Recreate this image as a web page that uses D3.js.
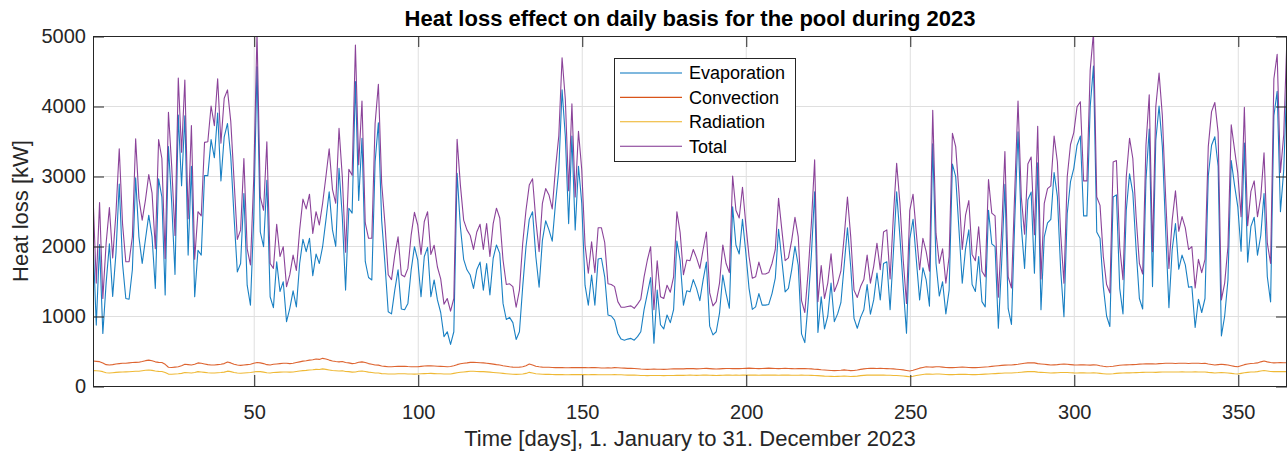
<!DOCTYPE html>
<html>
<head>
<meta charset="utf-8">
<script src="https://cdn.jsdelivr.net/npm/d3@7"></script>
<style>
  body { margin: 0; background: #fff; }
  svg { display: block; font-family: "Liberation Sans", Arial, Helvetica, sans-serif; }
</style>
</head>
<body>
<svg id="chart" width="1287" height="454"></svg>
<script>
const days = d3.range(1, 366)

const evaporation = [
  2100,870,2020,750,1470,2030,1280,1900,2885,1750,
  1250,1240,1660,2975,2130,1750,2100,2440,2130,1395,
  2960,2700,1300,3420,2610,1595,3870,2860,3860,1870,
  3140,1275,1940,1870,3005,3005,3520,3260,3900,2930,
  3560,3750,3280,2420,1630,1750,2750,1440,1155,2400,
  4560,2200,1990,2940,1275,1120,1775,1350,1490,920,
  1110,1360,1130,1750,2095,1920,2110,1575,1885,1750,
  1990,2370,2775,2230,1995,3110,2420,1370,2540,2470,
  4350,2650,3540,1780,1550,1515,3200,3760,2370,1750,
  1060,1030,1370,1660,1100,1090,1180,1660,1990,1800,
  1275,1850,1980,1275,1515,1230,1050,705,775,595,
  775,3040,2275,1810,1660,1585,1395,1660,1770,1370,
  1750,1300,1825,2015,1895,1180,950,980,905,665,
  775,1420,1990,2380,2490,1850,1410,2080,2360,2230,
  2070,2610,3090,4230,3560,2320,3570,2230,3140,2610,
  1440,1155,1585,1155,1815,1825,1560,1015,1000,940,
  750,670,655,670,680,655,705,775,1090,1320,
  1550,610,1370,875,815,1015,905,1090,2070,1790,
  1155,1360,1345,1520,1395,1220,1515,1770,855,730,
  775,1040,1585,1320,1110,2560,2015,1885,2380,1915,
  1395,1095,1130,1320,1155,1155,1165,1320,1540,2240,
  1800,1345,1395,1660,1995,1725,745,620,1180,1870,
  2775,765,1275,815,1000,1470,920,1030,1190,1725,
  2260,1700,965,825,980,1090,1450,1025,1230,1615,
  1230,1750,1775,1090,1905,2775,2130,1420,755,2100,
  2380,1800,1230,1690,1515,1140,3460,1750,1285,1490,
  1030,1370,3170,2990,2230,1470,1960,2230,1450,1350,
  1850,1205,1130,2510,2030,1990,825,1750,2880,1105,
  880,2360,3630,2280,1680,2660,2770,1610,3190,1090,
  2130,2330,2380,3050,2705,1660,990,2465,2920,3110,
  3440,3570,2430,2430,3990,4570,2200,2110,1420,1000,
  850,2700,2730,1395,1030,2510,3030,2760,1950,1250,
  1100,2940,3670,1420,3510,4000,3420,2230,1120,1950,
  2320,1670,1870,1730,1410,1420,835,1240,1050,1250,
  3000,3440,3560,3140,715,1000,1515,3220,2870,2560,
  1925,3470,1770,2280,2410,1870,2150,2750,1560,1200,
  3860,4210,2490,3080,4420
]

const convection = [
  357,352,348,330,305,300,305,315,320,324,
  326,330,335,338,340,350,362,370,360,345,
  338,336,310,268,265,270,275,290,310,305,
  300,310,330,325,315,305,300,300,305,310,
  320,343,330,310,300,295,300,305,310,325,
  335,330,320,305,300,310,315,320,325,325,
  320,325,335,345,355,360,370,375,385,380,
  395,385,370,357,350,345,350,335,330,320,
  325,340,345,335,320,310,300,298,285,280,
  276,276,278,280,280,282,278,276,275,276,
  280,285,288,290,286,282,280,278,276,278,
  290,305,318,324,330,338,338,335,332,330,
  325,320,312,305,300,290,282,275,270,267,
  270,275,290,314,300,282,275,270,268,267,
  265,262,262,262,260,260,262,262,262,262,
  262,260,262,262,260,258,258,260,258,262,
  260,258,255,252,252,250,246,242,240,238,
  240,242,240,240,238,240,242,244,245,245,
  245,248,250,248,245,246,250,252,248,245,
  242,245,248,250,250,248,250,248,250,252,
  255,252,250,248,250,252,255,252,250,248,
  250,252,250,248,246,248,250,248,246,245,
  240,238,232,228,225,222,220,222,225,230,
  225,219,222,228,238,245,250,252,252,250,
  252,250,248,246,244,240,236,230,222,214,
  225,240,255,265,276,272,270,275,276,270,
  265,262,262,265,268,270,268,265,262,262,
  265,268,272,275,280,285,290,295,298,300,
  300,305,310,318,325,330,333,330,320,315,
  310,305,300,302,305,310,312,310,306,302,
  300,302,304,300,298,302,300,290,282,276,
  278,282,290,296,300,302,304,306,308,312,
  314,316,318,316,314,320,322,324,324,324,
  322,324,326,324,322,324,326,324,322,324,
  315,308,300,305,310,305,300,290,280,276,
  290,305,315,322,324,330,345,357,345,335,
  330,333,335,333,333
]

const radiation = [
  220,218,215,205,190,186,190,195,198,200,
  202,204,207,210,211,217,224,229,223,214,
  209,208,192,170,168,171,174,180,192,189,
  186,192,205,201,195,189,186,186,189,192,
  198,212,205,192,186,183,186,189,192,201,
  208,205,198,189,186,192,195,198,201,201,
  198,201,208,214,220,223,229,232,238,236,
  245,238,229,221,217,214,217,208,205,198,
  201,211,214,208,198,192,186,185,177,174,
  171,171,172,174,174,175,172,171,170,171,
  174,177,179,180,177,175,174,172,171,172,
  180,189,197,201,205,210,210,208,206,205,
  202,198,193,189,186,180,175,171,167,166,
  167,171,180,195,186,175,171,167,166,166,
  164,162,162,162,161,161,162,162,162,162,
  162,161,162,162,161,160,160,161,160,162,
  161,160,158,156,156,155,153,150,149,148,
  149,150,149,149,148,149,150,151,152,152,
  152,154,155,154,152,153,155,156,154,152,
  150,152,154,155,155,154,155,154,155,156,
  158,156,155,154,155,156,158,156,155,154,
  155,156,155,154,153,154,155,154,153,152,
  149,148,144,141,140,138,136,138,140,143,
  140,136,138,141,148,152,155,156,156,155,
  156,155,154,153,151,149,146,143,138,133,
  140,149,158,164,171,169,167,171,171,167,
  164,162,162,164,166,167,166,164,162,162,
  164,166,169,171,174,177,180,183,185,186,
  186,189,192,197,202,205,206,205,198,195,
  192,189,186,187,189,192,193,192,190,187,
  186,187,188,186,185,187,186,180,175,171,
  172,175,180,184,186,187,188,190,191,193,
  195,196,197,196,195,198,200,201,201,201,
  200,201,202,201,200,201,202,201,200,201,
  195,191,186,189,192,189,186,180,174,171,
  180,189,195,200,201,205,214,221,214,208,
  205,206,208,206,206
]

const total = [
  2730,1470,2620,1250,2040,2550,1830,2470,3390,2320,
  1775,1775,2130,3530,2680,2370,2660,3020,2760,1960,
  3520,3250,1820,3910,3130,2150,4400,3340,4370,2390,
  3720,1810,2490,2430,3480,3490,4000,3720,4390,3470,
  4110,4230,3780,2940,2095,2230,3250,1960,1730,2960,
  5050,2700,2510,3490,1750,1680,2310,1850,1990,1420,
  1590,1870,1650,2230,2670,2530,2740,2180,2490,2300,
  2610,2990,3390,2810,2610,3680,2990,1910,3095,3010,
  4870,3160,4070,2330,2110,2110,3750,4310,2900,2320,
  1590,1520,1870,2130,1590,1560,1680,2160,2480,2300,
  1880,2350,2490,1880,2010,1700,1530,1170,1250,1070,
  1250,3525,2870,2370,2230,2150,1950,2200,2310,1950,
  2320,1850,2320,2540,2400,1800,1450,1460,1420,1125,
  1370,2040,2510,2870,2960,2370,1920,2610,2820,2730,
  2530,3110,3570,4690,4090,2790,4030,2700,3640,3090,
  2015,1610,2060,1620,2260,2260,2050,1460,1450,1420,
  1205,1125,1125,1135,1145,1110,1170,1240,1560,1800,
  1990,1090,1790,1275,1250,1440,1340,1560,2490,2190,
  1590,1800,1790,1950,1830,1680,1950,2200,1330,1145,
  1205,1470,2015,1750,1620,3000,2510,2400,2840,2320,
  1850,1540,1560,1770,1600,1600,1620,1750,1950,2680,
  2230,1790,1830,2080,2410,2130,1220,1050,1620,2320,
  3230,1205,1720,1250,1470,1890,1350,1470,1640,2130,
  2700,2130,1370,1265,1420,1520,1870,1470,1710,2040,
  1660,2200,2230,1530,2430,3180,2610,1800,1180,2510,
  2740,2180,1660,2110,1920,1640,3940,2180,1750,1960,
  1470,1850,3610,3420,2760,1950,2440,2650,1880,1790,
  2275,1640,1560,2950,2470,2430,1270,2210,3350,1560,
  1400,2790,4070,2700,2170,3170,3270,2160,3710,1530,
  2610,2820,2860,3570,3200,2180,1470,2990,3450,3620,
  3990,4060,2930,2930,4510,5050,2700,2580,1850,1450,
  1330,3200,3220,1990,1520,2990,3540,3250,2420,1750,
  1600,3440,4160,1920,3990,4470,3860,2700,1680,2370,
  2790,2210,2420,2260,1950,1990,1400,1810,1620,1810,
  3420,3920,4050,3620,1230,1470,1990,3730,3380,3040,
  2420,3980,2290,2780,2930,2420,2700,3330,2040,1750,
  4390,4740,3050,3590,5000
]

const xTicks = [50, 100, 150, 200, 250, 300, 350]
const yTicks = [0, 1000, 2000, 3000, 4000, 5000]

const series = [
  {name: "Evaporation", values: evaporation, color: "#0072BD"},
  {name: "Convection", values: convection, color: "#D95319"},
  {name: "Radiation", values: radiation, color: "#EDB120"},
  {name: "Total", values: total, color: "#7E2F8E"}
]

const plot = {left: 93, right: 1287, top: 36, bottom: 386}
const axisColor = "#262626"
const tickLen = 11

const svg = d3.select("#chart")

const x = d3.scaleLinear().domain([1, 365]).range([plot.left, plot.right])
const y = d3.scaleLinear().domain([0, 5000]).range([plot.bottom, plot.top])

svg.append("defs")
  .append("clipPath")
  .attr("id", "plot-clip")
  .append("rect")
  .attr("x", plot.left)
  .attr("y", plot.top)
  .attr("width", plot.right - plot.left)
  .attr("height", plot.bottom - plot.top)

// grid
const grid = svg.append("g").attr("class", "grid")
grid.selectAll("line.vgrid")
  .data(xTicks)
  .join("line")
  .attr("class", "vgrid")
  .attr("x1", (d) => x(d) + 0.5)
  .attr("x2", (d) => x(d) + 0.5)
  .attr("y1", plot.top)
  .attr("y2", plot.bottom)
  .attr("stroke", "#dfdfdf")
  .attr("stroke-width", 1)
grid.selectAll("line.hgrid")
  .data(yTicks.slice(1, -1))
  .join("line")
  .attr("class", "hgrid")
  .attr("x1", plot.left)
  .attr("x2", plot.right)
  .attr("y1", (d) => y(d) + 0.5)
  .attr("y2", (d) => y(d) + 0.5)
  .attr("stroke", "#dfdfdf")
  .attr("stroke-width", 1)

// series
const line = d3.line()
  .x((d, i) => x(days[i]))
  .y((d) => y(d))

svg.append("g")
  .attr("clip-path", "url(#plot-clip)")
  .selectAll("path")
  .data(series)
  .join("path")
  .attr("class", (d) => `series ${d.name}`)
  .attr("d", (d) => line(d.values))
  .attr("fill", "none")
  .attr("stroke", (d) => d.color)
  .attr("stroke-width", 1.1)
  .attr("stroke-opacity", 0.9)
  .attr("stroke-linejoin", "round")

// axes, ticks pointing inwards on all four sides
function style_axis(g) {
  g.select(".domain").remove()
  g.selectAll(".tick line").attr("stroke", axisColor)
  g.selectAll(".tick text")
    .attr("fill", axisColor)
    .style("font-size", "20px")
}

svg.append("g")
  .attr("transform", `translate(0.5,${plot.bottom})`)
  .call(d3.axisBottom(x).tickValues(xTicks).tickFormat(d3.format("d"))
    .tickSizeInner(-tickLen).tickSizeOuter(0).tickPadding(19))
  .call(style_axis)

svg.append("g")
  .attr("transform", `translate(0.5,${plot.top})`)
  .call(d3.axisTop(x).tickValues(xTicks).tickFormat("").tickSizeInner(-tickLen).tickSizeOuter(0))
  .call(style_axis)

svg.append("g")
  .attr("transform", `translate(${plot.left},0.5)`)
  .call(d3.axisLeft(y).tickValues(yTicks).tickFormat(d3.format("d"))
    .tickSizeInner(-tickLen).tickSizeOuter(0).tickPadding(7))
  .call(style_axis)

svg.append("g")
  .attr("transform", `translate(${plot.right},0.5)`)
  .call(d3.axisRight(y).tickValues(yTicks).tickFormat("").tickSizeInner(-tickLen).tickSizeOuter(0))
  .call(style_axis)

svg.append("rect")
  .attr("x", plot.left + 0.5)
  .attr("y", plot.top + 0.5)
  .attr("width", plot.right - plot.left - 1)
  .attr("height", plot.bottom - plot.top)
  .attr("fill", "none")
  .attr("stroke", axisColor)
  .attr("stroke-width", 1)

// labels
svg.append("text")
  .attr("x", (plot.left + plot.right) / 2)
  .attr("y", 26)
  .attr("text-anchor", "middle")
  .style("font-size", "22px")
  .style("font-weight", "bold")
  .attr("fill", "#000")
  .text("Heat loss effect on daily basis for the pool during 2023")

svg.append("text")
  .attr("x", (plot.left + plot.right) / 2)
  .attr("y", 446)
  .attr("text-anchor", "middle")
  .style("font-size", "22px")
  .attr("fill", axisColor)
  .text("Time [days], 1. January to 31. December 2023")

svg.append("text")
  .attr("transform", `translate(28,${(plot.top + plot.bottom) / 2}) rotate(-90)`)
  .attr("text-anchor", "middle")
  .style("font-size", "22px")
  .attr("fill", axisColor)
  .text("Heat loss [kW]")

// legend
const legend = svg.append("g").attr("class", "legend")
legend.append("rect")
  .attr("x", 614.5)
  .attr("y", 58.5)
  .attr("width", 181)
  .attr("height", 103)
  .attr("fill", "#fff")
  .attr("stroke", axisColor)
  .attr("stroke-width", 1)

const entry = legend.selectAll("g.entry")
  .data(series)
  .join("g")
  .attr("class", "entry")
  .attr("transform", (d, i) => `translate(0,${73 + i * 24.4})`)

entry.append("line")
  .attr("x1", 620)
  .attr("x2", 682)
  .attr("stroke", (d) => d.color)
  .attr("stroke-width", 1.1)

entry.append("text")
  .attr("x", 689)
  .attr("dy", "0.36em")
  .style("font-size", "18px")
  .attr("fill", "#000")
  .text((d) => d.name)
</script>
</body>
</html>
